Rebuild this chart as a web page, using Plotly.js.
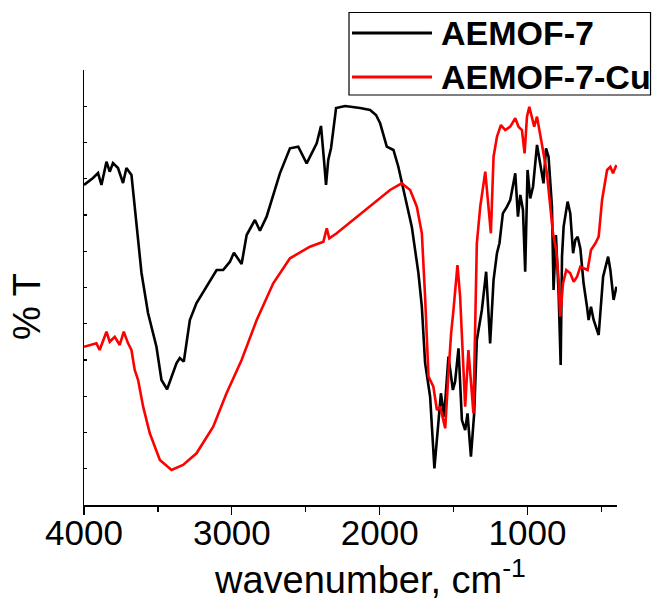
<!DOCTYPE html>
<html>
<head>
<meta charset="utf-8">
<script src="https://cdn.plot.ly/plotly-3.0.1.min.js"></script>
<style>body{margin:0;background:#fff}#chart{width:654px;height:606px}</style>
</head>
<body>
<div id="chart"></div>
<script>
// Series names
const seriesNames = ["AEMOF-7", "AEMOF-7-Cu"];
const seriesColors = ["#000000", "#ff0000"];

// AEMOF-7 (black): wavenumber (cm-1) and %T (arbitrary units)
const aemofWavenumber = [4000,3939,3905,3882,3848,3826,3804,3770,3736,3713,3679,3668,3634,3611,3567,3510,3476,3438,3374,3352,3325,3284,3239,3160,3103,3059,3013,2986,2934,2900,2844,2810,2765,2675,2607,2551,2494,2426,2397,2377,2363,2348,2329,2295,2234,2133,2065,2025,1997,1952,1907,1874,1828,1783,1738,1715,1693,1659,1630,1603,1586,1564,1535,1505,1490,1467,1444,1422,1406,1383,1361,1343,1309,1280,1253,1230,1207,1190,1167,1139,1117,1083,1065,1049,1031,1016,1000,982,963,936,914,892,875,858,835,824,808,790,776,767,756,729,711,692,677,661,643,621,598,587,571,553,519,489,455,440,418,399];
const aemofT = [44.14,45.10,45.79,44.14,47.35,45.97,47.17,46.48,44.41,46.48,45.52,43.45,36.55,32.0,26.48,21.83,17.24,15.96,19.59,20.28,19.77,25.52,27.86,30.62,32.41,32.41,33.56,34.80,33.24,37.24,39.31,37.83,39.77,45.75,49.20,49.42,47.13,49.89,52.28,47.59,44.14,47.59,49.24,54.76,55.03,54.76,54.48,53.79,52.65,49.42,48.97,46.66,42.52,38.39,31.96,27.35,19.59,14.94,5.06,11.72,15.41,12.18,20.46,15.86,17.01,21.61,11.72,10.34,12.64,6.66,12.64,22.76,26.90,32.18,22.30,31.03,34.72,36.10,40.23,41.15,42.07,45.75,39.77,42.76,40.69,32.18,46.21,42.30,43.90,49.66,47.13,44.37,49.20,48.04,41.15,29.66,37.24,29.2,19.31,34.25,38.39,41.84,40.23,34.72,36.55,37.01,35.40,30.58,27.35,25.52,27.35,25.52,23.45,31.49,34.25,32.41,28.28,30.11];

// AEMOF-7-Cu (red)
const cuWavenumber = [4000,3916,3894,3848,3826,3792,3758,3731,3702,3679,3657,3634,3600,3555,3487,3408,3330,3239,3126,3036,2934,2832,2720,2607,2472,2381,2358,2341,2291,2155,1997,1930,1851,1794,1749,1715,1693,1670,1637,1613,1591,1557,1535,1517,1501,1474,1456,1437,1422,1400,1366,1343,1320,1286,1264,1248,1230,1207,1180,1151,1117,1083,1061,1038,1020,1004,988,970,955,936,919,896,869,846,828,806,790,779,760,738,711,688,665,643,616,594,571,541,519,496,462,440,422,399];
const cuT = [21.83,22.30,21.38,23.90,22.52,23.21,22.07,23.90,22.30,21.38,18.62,17.24,13.56,9.89,6.21,4.83,5.52,7.13,10.80,15.41,20.0,25.52,30.58,34.03,35.63,36.32,38.17,36.79,37.48,39.77,42.30,43.45,44.37,43.45,41.15,37.48,28.73,17.70,16.32,13.10,13.56,10.58,18.17,23.68,26.90,33.10,28.73,20.46,13.56,21.38,12.64,36.10,41.15,45.97,41.15,37.48,48.04,50.80,52.41,51.72,52.18,53.34,52.18,51.72,48.51,53.56,54.94,53.56,52.18,53.56,51.72,48.97,45.75,41.15,37.48,35.17,31.03,25.98,30.58,32.41,31.96,30.80,31.49,32.87,32.65,32.41,35.17,36.10,37.01,42.07,46.21,46.66,45.75,46.90];

// Axis ticks and titles
const xTickVals = [4000, 3000, 2000, 1000];
const xTickText = ["4000", "3000", "2000", "1000"];
const xTitle = "wavenumber, cm<sup>-1</sup>";
const yTitle = "% T";

const sans = "'Liberation Sans', Arial, sans-serif";

const traces = [
  {x: aemofWavenumber, y: aemofT, name: seriesNames[0], type: "scatter", mode: "lines",
   line: {color: seriesColors[0], width: 2.6}},
  {x: cuWavenumber, y: cuT, name: seriesNames[1], type: "scatter", mode: "lines",
   line: {color: seriesColors[1], width: 2.6}}
];

// Legend box drawn in paper coordinates (top-right, outside the plot)
const legendRows = [1.0851, 0.9839];
const shapes = [
  {type: "rect", xref: "paper", yref: "paper", x0: 0.4972, x1: 1.0629, y0: 0.9425, y1: 1.1322,
   line: {color: "#000", width: 1.2}, fillcolor: "#ffffff", layer: "above"}
];
const annotations = [];
seriesNames.forEach((name, i) => {
  shapes.push({type: "line", xref: "paper", yref: "paper", x0: 0.5028, x1: 0.6529,
    y0: legendRows[i], y1: legendRows[i], line: {color: seriesColors[i], width: 3}, layer: "above"});
  annotations.push({xref: "paper", yref: "paper", x: 0.6655, y: legendRows[i],
    xanchor: "left", yanchor: "middle", showarrow: false, text: "<b>" + name + "</b>",
    font: {family: sans, size: 34, color: "#000"}});
});
annotations.push({xref: "paper", yref: "paper", x: 0.5366, y: -0.166, xanchor: "center", yanchor: "middle",
  showarrow: false, text: xTitle, font: {family: sans, size: 38, color: "#000"}});
annotations.push({xref: "paper", yref: "paper", x: -0.107, y: 0.4575, xanchor: "center", yanchor: "middle",
  showarrow: false, textangle: -90, text: yTitle, font: {family: sans, size: 38, color: "#000"}});

const layout = {
  width: 654, height: 606,
  margin: {l: 84, r: 37, t: 70, b: 101},
  paper_bgcolor: "#ffffff", plot_bgcolor: "#ffffff",
  showlegend: false,
  shapes: shapes,
  annotations: annotations,
  xaxis: {
    range: [4000, 395], autorange: false, automargin: false,
    tickmode: "array", tickvals: xTickVals, ticktext: xTickText,
    ticks: "outside", ticklen: 8, tickwidth: 1.2, tickcolor: "#000",
    minor: {dtick: 500, tick0: 0, ticks: "outside", ticklen: 5, tickwidth: 1.2, tickcolor: "#000"},
    showline: true, linecolor: "#000", linewidth: 1.5, mirror: false,
    showgrid: false, zeroline: false,
    ticklabelstandoff: -12,
    tickfont: {family: sans, size: 35, color: "#000"}
  },
  yaxis: {
    range: [0, 60], autorange: false, automargin: false,
    dtick: 5, tick0: 0,
    ticks: "inside", ticklen: 3, tickwidth: 1.2, tickcolor: "#000",
    showticklabels: false,
    showline: true, linecolor: "#000", linewidth: 1.5, mirror: false,
    showgrid: false, zeroline: false
  }
};

Plotly.newPlot("chart", traces, layout, {displayModeBar: false, staticPlot: true});
</script>
</body>
</html>
